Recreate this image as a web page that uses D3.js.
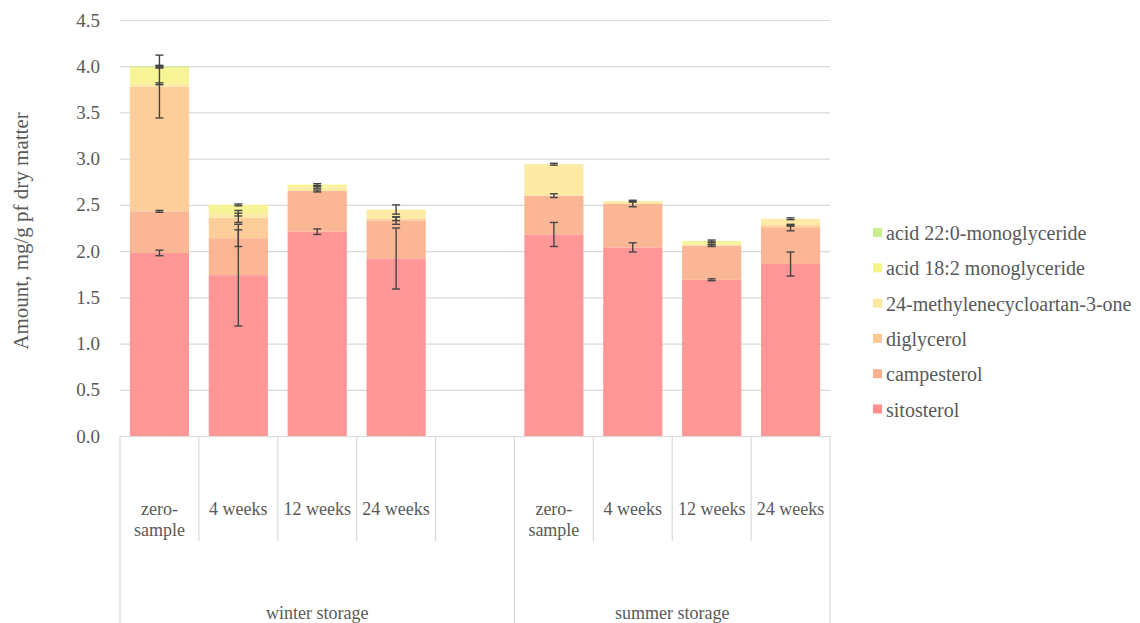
<!DOCTYPE html>
<html>
<head>
<meta charset="utf-8">
<script src="https://cdn.jsdelivr.net/npm/d3@7"></script>
<style>
  html, body { margin: 0; padding: 0; background: #fff; }
  svg { display: block; }
  text { font-family: "Liberation Serif", "Times New Roman", serif; fill: #595959; }
</style>
</head>
<body>
<svg id="chart" width="1140" height="623" font-family="'Liberation Serif', serif"></svg>
<script>
// Category slots along the x axis (winter group has an empty trailing slot)
const categoryKeys = ["w0", "w4", "w12", "w24", "wgap", "s0", "s4", "s12", "s24"];
const categoryLabels = [["zero-", "sample"], ["4 weeks"], ["12 weeks"], ["24 weeks"], [], ["zero-", "sample"], ["4 weeks"], ["12 weeks"], ["24 weeks"]];
const groupNames = ["winter storage", "summer storage"];
const groupSpans = [["w0", "wgap"], ["s0", "s24"]];

// Stack components, bottom to top
const seriesNames = ["sitosterol", "campesterol", "diglycerol", "24-methylenecycloartan-3-one", "acid 18:2 monoglyceride", "acid 22:0-monoglyceride"];
const seriesColors = ["#ff8e8e", "#fbb08d", "#fdc991", "#fde89d", "#f5f38c", "#c8ef8e"];

// Amounts, mg/g of dry matter
const sitosterol   = [1.98, 1.74, 2.21, 1.92, 0, 2.18, 2.04, 1.69, 1.86];
const campesterol  = [0.45, 0.40, 0.44, 0.41, 0, 0.42, 0.47, 0.37, 0.39];
const diglycerol   = [1.35, 0.22, 0.00, 0.02, 0, 0.00, 0.00, 0.00, 0.03];
const methylene    = [0.03, 0.05, 0.04, 0.10, 0, 0.34, 0.03, 0.02, 0.07];
const acid182      = [0.18, 0.09, 0.03, 0.00, 0, 0.00, 0.00, 0.03, 0.00];
const acid220      = [0.01, 0.00, 0.00, 0.00, 0, 0.00, 0.00, 0.00, 0.00];

// Standard deviations, one per component
const sitosterolSd  = [0.03, 0.55, 0.03, 0.33, 0, 0.13, 0.05, 0.01, 0.13];
const campesterolSd = [0.01, 0.09, 0.01, 0.04, 0, 0.02, 0.03, 0.01, 0.03];
const diglycerolSd  = [0.34, 0.05, 0.00, 0.02, 0, 0.00, 0.00, 0.00, 0.01];
const methyleneSd   = [0.01, 0.03, 0.01, 0.05, 0, 0.01, 0.01, 0.01, 0.01];
const acid182Sd     = [0.01, 0.01, 0.01, 0.00, 0, 0.00, 0.00, 0.01, 0.00];
const acid220Sd     = [0.01, 0.00, 0.00, 0.00, 0, 0.00, 0.00, 0.00, 0.00];

const yTicks = [0, 0.5, 1, 1.5, 2, 2.5, 3, 3.5, 4, 4.5];

const seriesValues = [sitosterol, campesterol, diglycerol, methylene, acid182, acid220];
const seriesSd = [sitosterolSd, campesterolSd, diglycerolSd, methyleneSd, acid182Sd, acid220Sd];

const rows = categoryKeys.map((k, i) => {
  const r = { key: k };
  seriesNames.forEach((s, j) => { r[s] = seriesValues[j][i]; });
  return r;
});

const svg = d3.select("#chart");
const plot = { left: 120, right: 830, top: 20, bottom: 436 };
const serif = "'Liberation Serif', 'Times New Roman', serif";

const x = d3.scaleBand().domain(categoryKeys).range([plot.left, plot.right])
  .paddingInner(0.25).paddingOuter(0.125);
const y = d3.scaleLinear().domain([0, 4.5]).range([plot.bottom, plot.top]);

// Horizontal gridlines
const grid = svg.append("g")
  .attr("transform", `translate(${plot.left},0)`)
  .call(d3.axisLeft(y).tickValues(yTicks).tickSize(-(plot.right - plot.left)).tickFormat(""));
grid.select(".domain").remove();
grid.selectAll(".tick line").attr("stroke", "#d9d9d9").attr("stroke-width", 1.2);

// Y tick labels
const yAxis = svg.append("g")
  .attr("transform", `translate(${plot.left - 20},0)`)
  .call(d3.axisLeft(y).tickValues(yTicks).tickSize(0).tickPadding(0).tickFormat(d3.format(".1f")));
yAxis.attr("font-family", serif);
yAxis.select(".domain").remove();
yAxis.selectAll("text").style("font-size", "19px").style("font-family", serif).attr("fill", "#595959");

// Stacked bars
const stacked = d3.stack().keys(seriesNames)(rows);
const layers = svg.append("g").selectAll("g")
  .data(stacked).join("g")
  .attr("fill", (d, i) => seriesColors[i])
  .attr("fill-opacity", 0.92);
layers.selectAll("rect")
  .data(d => d.filter(p => p[1] - p[0] > 0))
  .join("rect")
  .attr("x", d => x(d.data.key))
  .attr("width", x.bandwidth())
  .attr("y", d => y(d[1]))
  .attr("height", d => y(d[0]) - y(d[1]));

// Error bars at the top of each component
const errs = [];
stacked.forEach((layer, j) => {
  layer.forEach((p, i) => {
    const sd = seriesSd[j][i];
    if (sd > 0) errs.push({ key: p.data.key, top: p[1], sd });
  });
});
const eb = svg.append("g").attr("stroke", "#444").attr("stroke-width", 1.4);
const cap = 4;
errs.forEach(e => {
  const cx = x(e.key) + x.bandwidth() / 2;
  const y1 = y(e.top - e.sd), y2 = y(e.top + e.sd);
  eb.append("line").attr("x1", cx).attr("x2", cx).attr("y1", y1).attr("y2", y2);
  eb.append("line").attr("x1", cx - cap).attr("x2", cx + cap).attr("y1", y1).attr("y2", y1);
  eb.append("line").attr("x1", cx - cap).attr("x2", cx + cap).attr("y1", y2).attr("y2", y2);
});

// Two-level category axis
const step = x.step();
const boundaries = categoryKeys.map(k => x(k) - x.paddingInner() * step / 2).concat([plot.right]);
const axisG = svg.append("g").attr("stroke", "#d9d9d9").attr("stroke-width", 1.2);
const groupEdges = new Set();
groupSpans.forEach(([a, b]) => {
  groupEdges.add(categoryKeys.indexOf(a));
  groupEdges.add(categoryKeys.indexOf(b) + 1);
});
boundaries.forEach((bx, i) => {
  axisG.append("line")
    .attr("x1", bx).attr("x2", bx)
    .attr("y1", plot.bottom).attr("y2", groupEdges.has(i) ? 623 : 541);
});

// Category labels (first line aligned across categories, wrapped lines below)
const catG = svg.append("g");
categoryKeys.forEach((k, i) => {
  const lines = categoryLabels[i];
  const cx = x(k) + x.bandwidth() / 2;
  const lh = 21;
  lines.forEach((t, li) => {
    catG.append("text")
      .attr("x", cx)
      .attr("y", 509 + li * lh)
      .attr("dy", "0.35em")
      .attr("text-anchor", "middle")
      .style("font-size", "18px")
      .style("font-family", serif)
      .text(t);
  });
});

// Group labels
groupSpans.forEach(([a, b], gi) => {
  const x0 = boundaries[categoryKeys.indexOf(a)];
  const x1 = boundaries[categoryKeys.indexOf(b) + 1];
  svg.append("text")
    .attr("x", (x0 + x1) / 2)
    .attr("y", 613)
    .attr("dy", "0.35em")
    .attr("text-anchor", "middle")
    .style("font-size", "18px")
    .style("font-family", serif)
    .text(groupNames[gi]);
});

// Y axis title
svg.append("text")
  .attr("transform", "translate(21,231) rotate(-90)")
  .attr("dy", "0.35em")
  .attr("text-anchor", "middle")
  .style("font-size", "21px")
  .style("font-family", serif)
  .text("Amount, mg/g pf dry matter");

// Legend (top entry is the top of the stack)
const legendOrder = seriesNames.map((n, i) => i).reverse();
const lg = svg.append("g");
legendOrder.forEach((si, r) => {
  const cy = 233 + r * 35.3;
  lg.append("rect").attr("x", 873).attr("y", cy - 5).attr("width", 9).attr("height", 9)
    .attr("fill", seriesColors[si]);
  lg.append("text").attr("x", 886).attr("y", cy).attr("dy", "0.35em")
    .style("font-size", "20px")
    .style("font-family", serif)
    .text(seriesNames[si]);
});
</script>
</body>
</html>
